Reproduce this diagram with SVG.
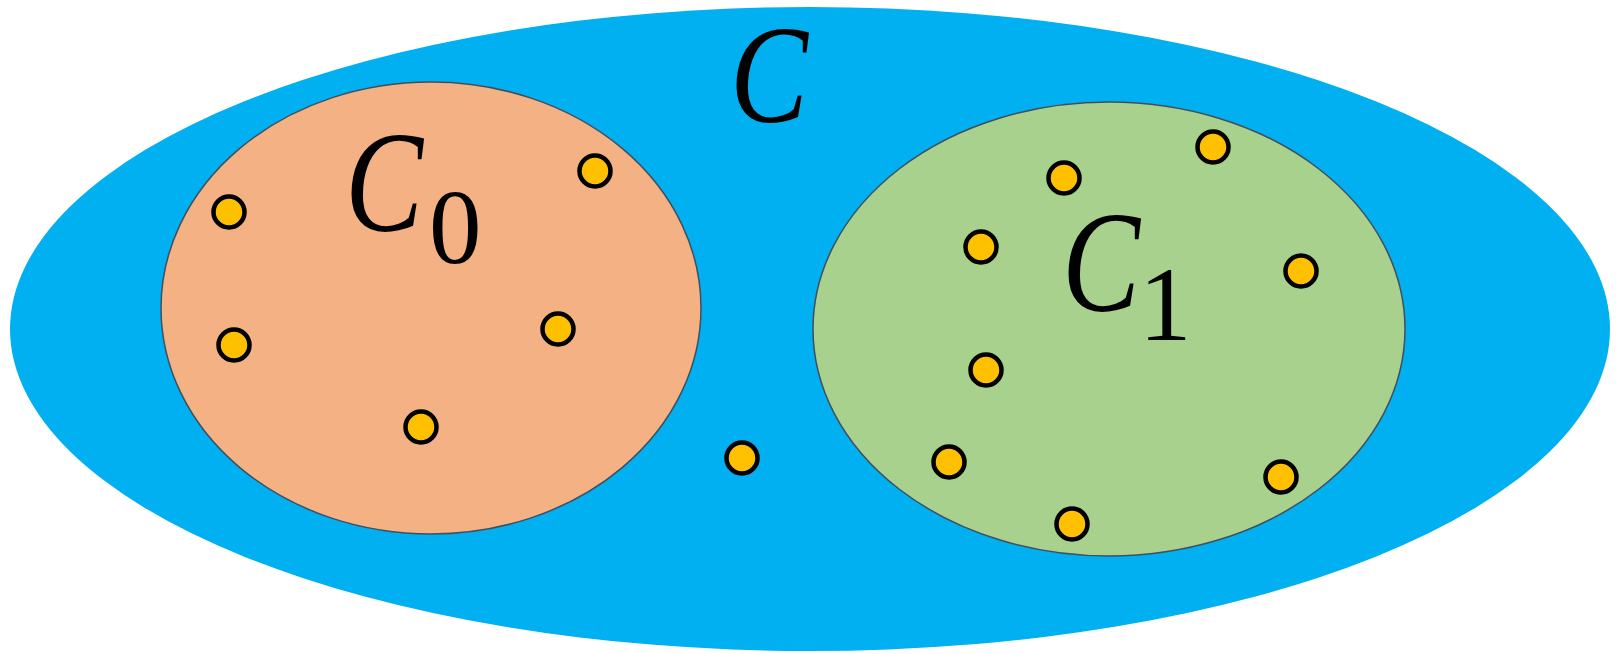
<svg xmlns="http://www.w3.org/2000/svg" width="1617" height="654" viewBox="0 0 1617 654">
<style>
.lbl{font-family:"Liberation Serif","DejaVu Serif",serif;font-style:italic;fill:#000}
.sub{font-family:"Liberation Serif","DejaVu Serif",serif;fill:#000}
.dot{fill:#FFC000;stroke:#000;stroke-width:4.5}
</style>
<rect width="1617" height="654" fill="#fff"/>
<g id="C">
<ellipse cx="810" cy="329" rx="800" ry="322" fill="#00B0F0"/>
<text class="lbl" x="730" y="122" font-size="140" textLength="78" lengthAdjust="spacingAndGlyphs">C</text>
</g>
<g id="C0">
<ellipse cx="431" cy="308" rx="270" ry="226" fill="#F4B183" stroke="#3f4f5f" stroke-width="1.5"/>
<text class="lbl" x="345" y="231" font-size="145" textLength="78" lengthAdjust="spacingAndGlyphs">C</text>
<text class="sub" x="429" y="263" font-size="105">0</text>
</g>
<g id="C1">
<ellipse cx="1109" cy="329" rx="296" ry="227" fill="#A9D18E" stroke="#3f4f5f" stroke-width="1.5"/>
<text class="lbl" x="1062" y="311" font-size="145" textLength="78" lengthAdjust="spacingAndGlyphs">C</text>
<text class="sub" x="1139" y="340" font-size="105">1</text>
</g>
<g id="points">
<circle class="dot" cx="229" cy="212" r="15.5"/>
<circle class="dot" cx="595" cy="171" r="15.5"/>
<circle class="dot" cx="234" cy="345" r="15.5"/>
<circle class="dot" cx="558" cy="329" r="15.5"/>
<circle class="dot" cx="421" cy="427" r="15.5"/>
<circle class="dot" cx="742" cy="458" r="15.5"/>
<circle class="dot" cx="1213" cy="147" r="15.5"/>
<circle class="dot" cx="1064" cy="178" r="15.5"/>
<circle class="dot" cx="981" cy="247" r="15.5"/>
<circle class="dot" cx="1301" cy="271" r="15.5"/>
<circle class="dot" cx="986" cy="370" r="15.5"/>
<circle class="dot" cx="949" cy="462" r="15.5"/>
<circle class="dot" cx="1281" cy="477" r="15.5"/>
<circle class="dot" cx="1072" cy="524" r="15.5"/>
</g>
</svg>
